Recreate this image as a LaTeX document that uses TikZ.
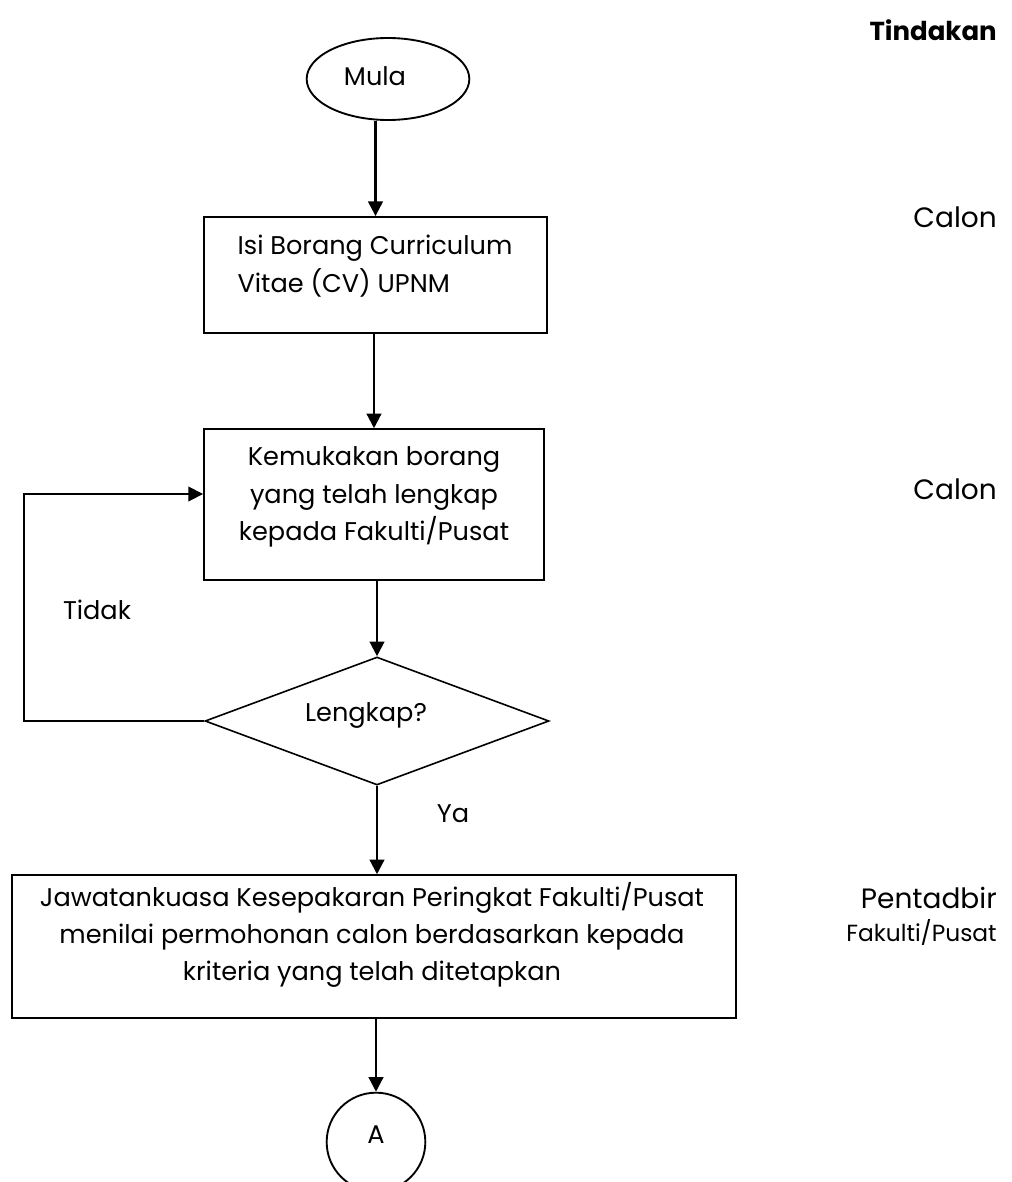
\documentclass[tikz,border=0pt]{standalone}
\usepackage{fontspec}
\setmainfont{Poppins}
\usetikzlibrary{shapes.geometric,arrows.meta}

\tikzset{
  flow/.style={line width=1.7pt,-{Triangle[length=11pt,width=11pt]}},
  prosesbox/.style={draw,line width=1.4pt,inner sep=0pt},
  teks/.style={inner sep=0pt,align=center},
  tindakan/.style={anchor=east,inner sep=0pt,font=\fontsize{21}{24}\selectfont},
}

\begin{document}
\begin{tikzpicture}[x=0.75pt,y=-0.75pt,font=\fontsize{19.2}{28}\selectfont]
\useasboundingbox (0,0) rectangle (1012,1182);

% kotak proses
\node[prosesbox,ellipse,minimum width=122pt,minimum height=61.5pt] (mula) at (388,79) {};
\node[prosesbox,minimum width=257pt,minimum height=87pt] (borang) at (375.5,275) {};
\node[prosesbox,minimum width=255pt,minimum height=113pt] (kemuka) at (374,504.5) {};
\node[prosesbox,diamond,line width=1.2pt,minimum width=258pt,minimum height=96pt] (lengkap) at (377,721) {};
\node[prosesbox,minimum width=543pt,minimum height=107pt] (nilai) at (374,946.5) {};
\node[prosesbox,circle,minimum size=74pt] (sambung) at (376,1142) {};

% teks dalam kotak
\node[teks] (mula-t) at (375,76) {Mula};
\node[teks,align=left] (borang-t) at (375,266) {Isi Borang Curriculum\\Vitae (CV) UPNM};
\node[teks] (kemuka-t) at (374,497) {Kemukakan borang\\yang telah lengkap\\kepada Fakulti/Pusat};
\node[teks] (lengkap-t) at (366,715) {Lengkap?};
\node[teks] (nilai-t) at (372,935)
  {Jawatankuasa Kesepakaran Peringkat Fakulti/Pusat\\menilai permohonan calon berdasarkan kepada\\kriteria yang telah ditetapkan};
\node[teks] (sambung-t) at (376,1135) {A};

\coordinate (balik) at (24,494);

\draw[flow] (mula.south -| borang.north) -- (borang.north);
\draw[flow] (borang.south -| kemuka.north) -- (kemuka.north);
\draw[flow] (kemuka.south -| lengkap.north) -- (lengkap.north);
\draw[flow] (lengkap.south) -- (lengkap.south |- nilai.north);
\draw[flow] (nilai.south -| sambung.north) -- (sambung.north);
\draw[flow,line width=1.2pt] (lengkap.west) -| (balik) -- (balik -| kemuka.west);

\node[teks] (tidak) at (97,610) {Tidak};
\node[teks] (ya) at (453,814) {Ya};

% lajur tindakan
\node[tindakan,font=\fontsize{19.5}{24}\bfseries] (t0) at (997,30) {Tindakan};
\node[tindakan] (t1) at (997,217) {Calon};
\node[tindakan] (t2) at (997,489) {Calon};
\node[tindakan] (t3) at (997,898) {Pentadbir};
\node[tindakan,font=\fontsize{17.5}{20}\selectfont] (t4) at (997,932) {Fakulti/Pusat};
\end{tikzpicture}
\end{document}
